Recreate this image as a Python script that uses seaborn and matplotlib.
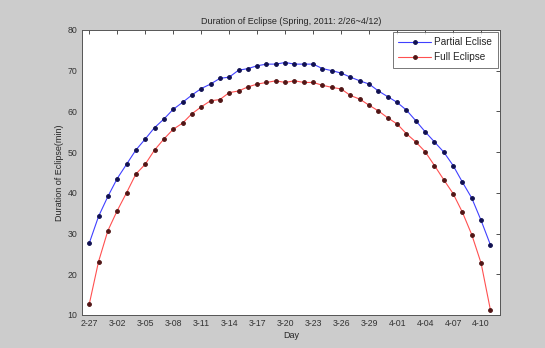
import pandas as pd
import numpy as np
import matplotlib
matplotlib.use('Agg')
import matplotlib.pyplot as plt
import seaborn as sns

# one point per day, 2-27 .. 4-11 (2011)
days = pd.date_range('2011-02-27', '2011-04-11', freq='D')

partial = [27.6, 34.2, 39.1, 43.5, 47.0, 50.5, 53.2, 56.0, 58.1, 60.5,
           62.2, 64.0, 65.6, 66.7, 68.1, 68.4, 70.1, 70.5, 71.2, 71.6,
           71.6, 72.0, 71.6, 71.6, 71.6, 70.5, 70.0, 69.4, 68.4, 67.5,
           66.7, 65.0, 63.6, 62.2, 60.3, 57.7, 55.0, 52.5, 50.0, 46.7,
           42.6, 38.7, 33.2, 27.2]
full = [12.6, 23.1, 30.7, 35.6, 40.0, 44.6, 47.0, 50.5, 53.2, 55.6,
        57.1, 59.4, 61.1, 62.6, 62.9, 64.6, 65.0, 66.0, 66.7, 67.1,
        67.5, 67.1, 67.5, 67.1, 67.1, 66.4, 65.9, 65.5, 63.9, 63.0,
        61.5, 60.1, 58.4, 56.9, 54.5, 52.5, 50.1, 46.7, 43.2, 39.8,
        35.2, 29.7, 22.7, 11.2]

tick_labels = ['2-27', '3-02', '3-05', '3-08', '3-11', '3-14', '3-17', '3-20',
               '3-23', '3-26', '3-29', '4-01', '4-04', '4-07', '4-10']

df = pd.DataFrame({
    'day': list(range(1, len(days) + 1)) * 2,
    'minutes': partial + full,
    'series': ['Partial Eclise'] * len(partial) + ['Full Eclipse'] * len(full),
})

sns.set_style('white')
plt.rcParams['font.family'] = ['Liberation Sans', 'DejaVu Sans']

fig = plt.figure(figsize=(5.45, 3.48), dpi=100, facecolor='#cccccc')
ax = fig.add_axes([0.150, 0.095, 0.767, 0.819])

line_colors = {'Partial Eclise': '#4040ff', 'Full Eclipse': '#ff5050'}
marker_colors = {'Partial Eclise': '#101050', 'Full Eclipse': '#501515'}
for name in ['Partial Eclise', 'Full Eclipse']:
    sub = df[df['series'] == name]
    sns.lineplot(data=sub, x='day', y='minutes', ax=ax, color=line_colors[name],
                 linewidth=0.8, marker='o', markersize=2.7,
                 markerfacecolor=marker_colors[name],
                 markeredgecolor=marker_colors[name], label=name)

ax.set_xlim(0.2, 45)
ax.set_ylim(10, 80)
ax.set_yticks(range(10, 81, 10))
ax.set_xticks(range(1, len(days) + 1, 3))
ax.set_xticklabels(tick_labels)
ax.tick_params(direction='in', length=3, width=0.6, labelsize=6.3,
               top=True, right=True, colors='#333333', pad=3)
for s in ax.spines.values():
    s.set_color('#555555')
    s.set_linewidth(0.7)
ax.set_title('Duration of Eclipse (Spring, 2011: 2/26~4/12)', fontsize=6.5, pad=4)
ax.set_xlabel('Day', fontsize=6.5, labelpad=2)
ax.set_ylabel('Duration of Eclipse(min)', fontsize=6.5, labelpad=3)

leg = ax.legend(loc='upper right', fontsize=7.2, frameon=True, fancybox=False,
                borderaxespad=0.2, handlelength=3.3, borderpad=0.55,
                labelspacing=0.5, handletextpad=0.3)
leg.get_frame().set_edgecolor('#555555')
leg.get_frame().set_linewidth(0.7)

fig.savefig('out.png', dpi=100, facecolor=fig.get_facecolor())
